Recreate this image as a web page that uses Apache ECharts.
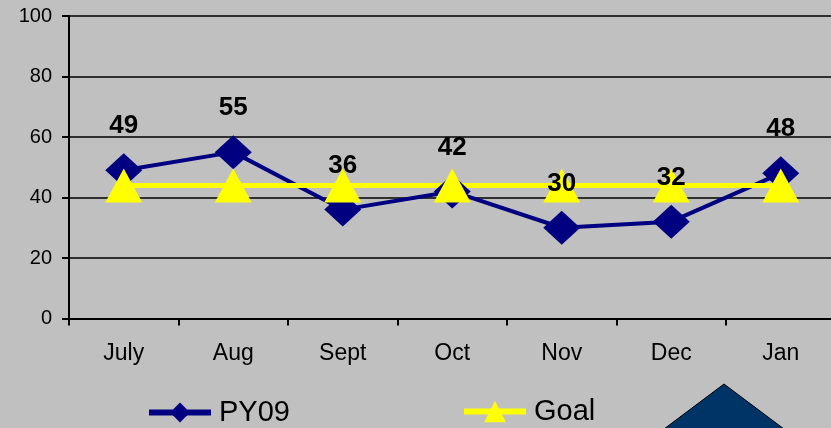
<!DOCTYPE html>
<html>
<head>
<meta charset="utf-8">
<script src="https://cdn.jsdelivr.net/npm/echarts@6/dist/echarts.min.js"></script>
<style>
html,body{margin:0;padding:0;background:#c0c0c0;overflow:hidden;width:831px;height:428px;}
#chart{width:836px;height:428px;}
</style>
</head>
<body>
<div id="chart"></div>
<script>
const categories = ['July', 'Aug', 'Sept', 'Oct', 'Nov', 'Dec', 'Jan'];
const py09 = [49, 55, 36, 42, 30, 32, 48];
const goal = [44, 44, 44, 44, 44, 44, 44];
const yTicks = { min: 0, max: 100, interval: 20 };

const FONT = '"Liberation Sans", Arial, sans-serif';
const chart = echarts.init(document.getElementById('chart'), null, { renderer: 'canvas' });

chart.setOption({
  backgroundColor: '#c0c0c0',
  animation: false,
  grid: { left: 69, right: 0.5, top: 16, bottom: 109.5, containLabel: false },
  xAxis: {
    type: 'category',
    data: categories,
    boundaryGap: true,
    axisLine: { lineStyle: { color: '#000', width: 2 } },
    axisTick: { show: true, length: 7, lineStyle: { color: '#000', width: 2 } },
    axisLabel: { color: '#000', fontSize: 23, fontFamily: FONT, margin: 24 },
    splitLine: { show: false }
  },
  yAxis: {
    type: 'value',
    min: yTicks.min, max: yTicks.max, interval: yTicks.interval,
    axisLine: { show: true, lineStyle: { color: '#000', width: 2 } },
    axisTick: { show: true, length: 7, lineStyle: { color: '#000', width: 2 } },
    axisLabel: { color: '#000', fontSize: 20, fontFamily: FONT, margin: 17 },
    splitLine: { show: true, lineStyle: { color: '#000', width: 1.5 } }
  },
  legend: [
    {
      data: ['PY09'], left: 146, top: 398, padding: 0,
      itemWidth: 62, itemHeight: 25,
      lineStyle: { width: 6 },
      textStyle: { fontSize: 29, fontFamily: FONT, color: '#000', padding: [0, 0, 0, 3] }
    },
    {
      data: ['Goal'], left: 461, top: 397, padding: 0,
      itemWidth: 62, itemHeight: 27,
      lineStyle: { width: 6 },
      textStyle: { fontSize: 29, fontFamily: FONT, color: '#000', padding: [0, 0, 0, 3] }
    }
  ],
  series: [
    {
      name: 'PY09',
      type: 'line',
      data: py09,
      symbol: 'diamond',
      symbolSize: [37, 34],
      z: 2,
      lineStyle: { color: '#000080', width: 4 },
      itemStyle: { color: '#000080' },
      label: {
        show: true,
        position: 'inside',
        offset: [0, -44],
        color: '#000',
        fontSize: 26,
        fontWeight: 'bold',
        fontFamily: FONT
      }
    },
    {
      name: 'Goal',
      type: 'line',
      data: goal,
      symbol: 'triangle',
      symbolSize: [37, 34],
      z: 2,
      lineStyle: { color: '#ffff00', width: 5 },
      itemStyle: { color: '#ffff00' },
      label: { show: false }
    }
  ],
  graphic: [
    {
      type: 'polygon',
      shape: { points: [[724, 384], [640, 447], [808, 447]] },
      style: { fill: '#003366', stroke: '#000', lineWidth: 1 },
      z: 10
    }
  ]
});
</script>
</body>
</html>
